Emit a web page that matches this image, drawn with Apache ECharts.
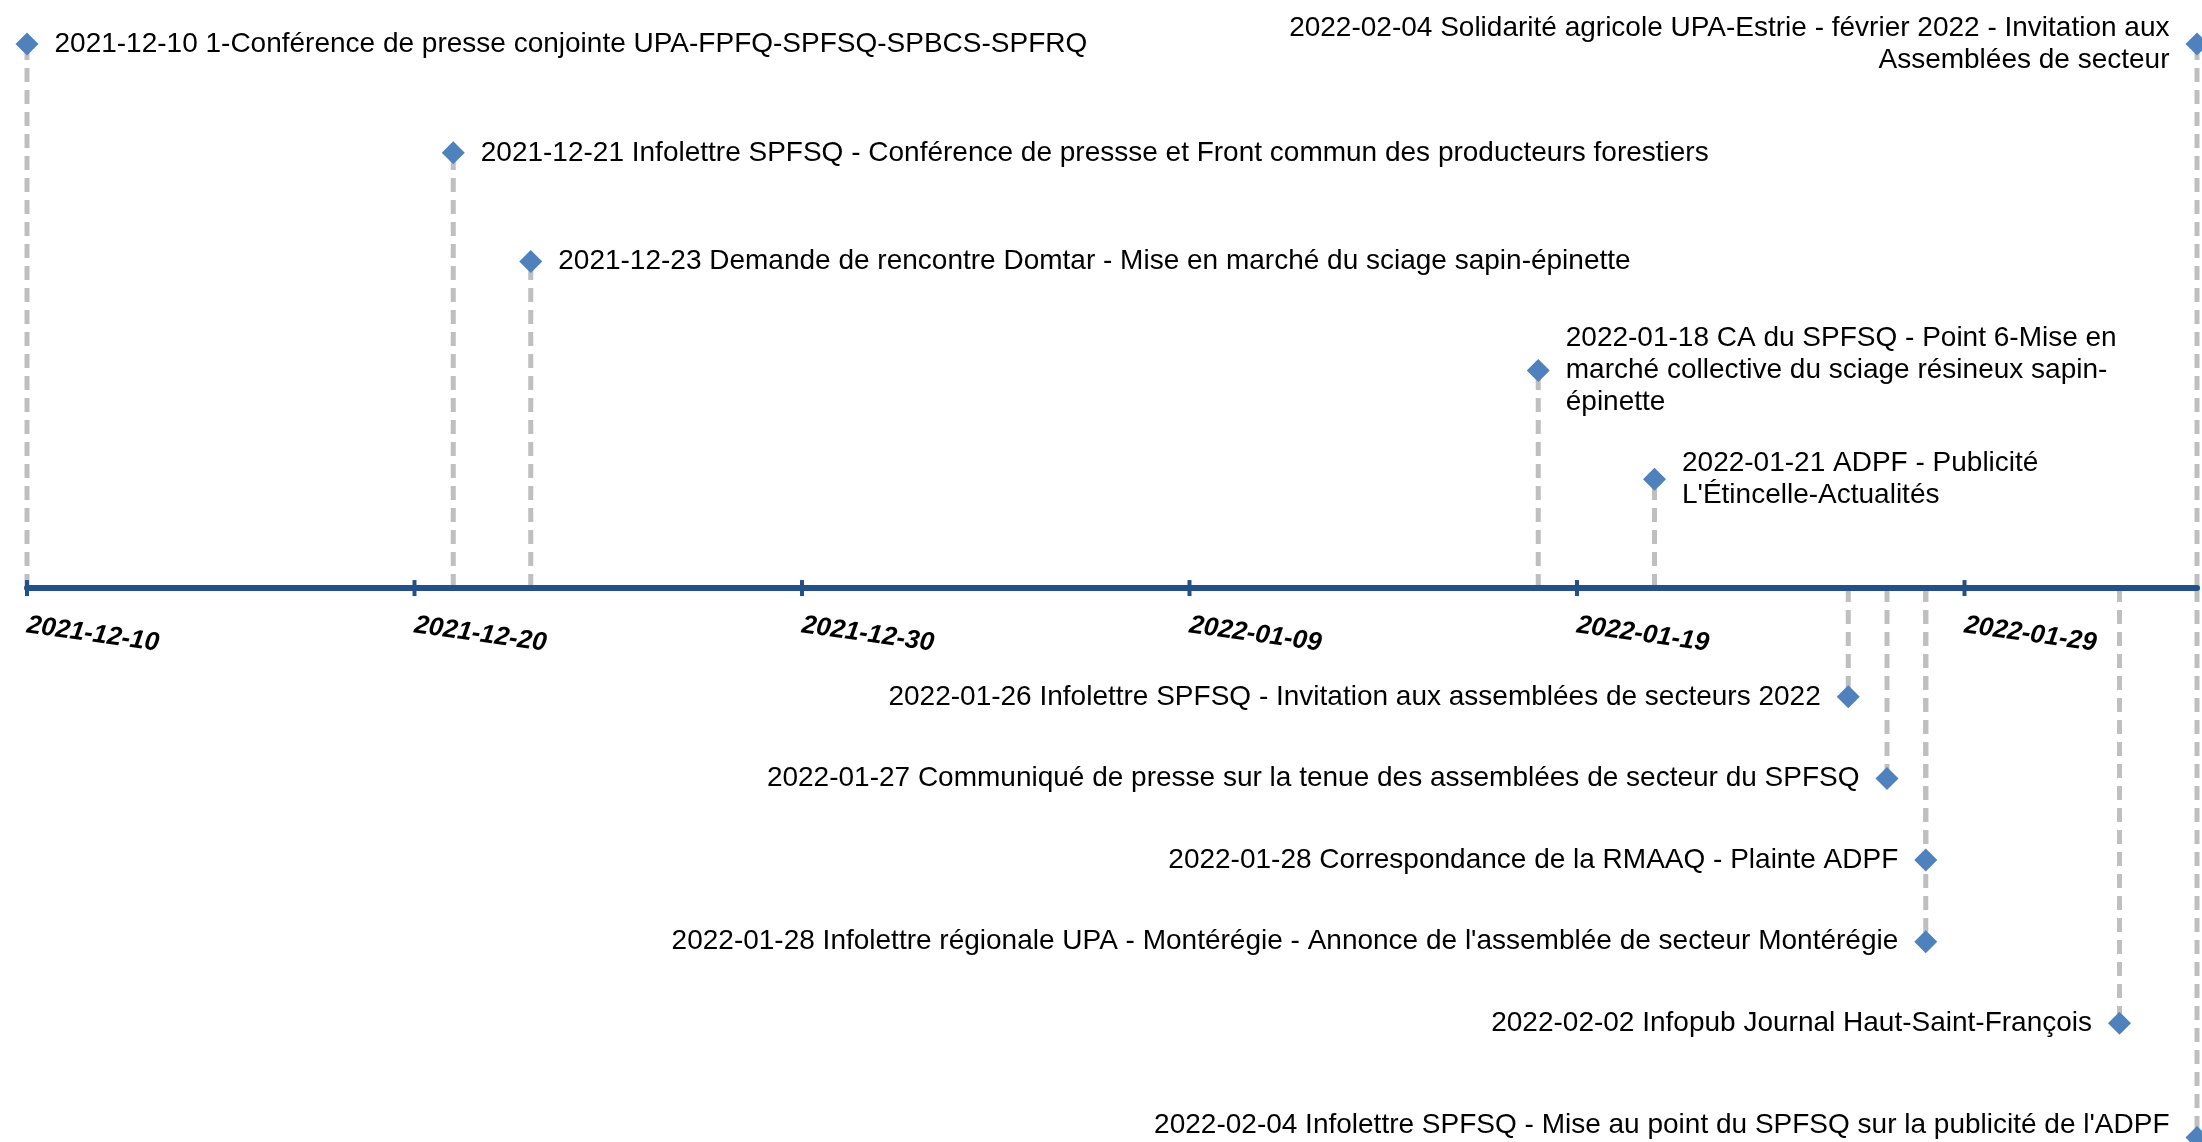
<!DOCTYPE html>
<html>
<head>
<meta charset="utf-8">
<script src="https://cdn.jsdelivr.net/npm/echarts@6/dist/echarts.min.js"></script>
<style>
  html, body { margin: 0; padding: 0; background: #ffffff; }
  #chart { width: 2202px; height: 1142px; }
</style>
</head>
<body>
<div id="chart"></div>
<script>
// ---- Data ----
const startDate = '2021-12-10';
const endDate = '2022-02-04';
const tickLabels = ['2021-12-10', '2021-12-20', '2021-12-30', '2022-01-09', '2022-01-19', '2022-01-29'];

const eventDates = [
  '2021-12-10', '2021-12-21', '2021-12-23', '2022-01-18', '2022-01-21', '2022-02-04',
  '2022-01-26', '2022-01-27', '2022-01-28', '2022-01-28', '2022-02-02', '2022-02-04'
];
const eventHeights = [5, 4, 3, 2, 1, 5, -1, -1.75, -2.5, -3.25, -4, -5.05];
const eventTexts = [
  '2021-12-10 1-Conférence de presse conjointe UPA-FPFQ-SPFSQ-SPBCS-SPFRQ',
  '2021-12-21 Infolettre SPFSQ - Conférence de pressse et Front commun des producteurs forestiers',
  '2021-12-23 Demande de rencontre Domtar - Mise en marché du sciage sapin-épinette',
  '2022-01-18 CA du SPFSQ - Point 6-Mise en\nmarché collective du sciage résineux sapin-\népinette',
  '2022-01-21 ADPF - Publicité\nL\'Étincelle-Actualités',
  '2022-02-04 Solidarité agricole UPA-Estrie - février 2022 - Invitation aux\nAssemblées de secteur',
  '2022-01-26 Infolettre SPFSQ - Invitation aux assemblées de secteurs 2022',
  '2022-01-27 Communiqué de presse sur la tenue des assemblées de secteur du SPFSQ',
  '2022-01-28 Correspondance de la RMAAQ - Plainte ADPF',
  '2022-01-28 Infolettre régionale UPA - Montérégie - Annonce de l\'assemblée de secteur Montérégie',
  '2022-02-02 Infopub Journal Haut-Saint-François',
  '2022-02-04 Infolettre SPFSQ - Mise au point du SPFSQ sur la publicité de l\'ADPF'
];

// ---- Helpers ----
const DAY = 86400000;
function toUTC(s) { const p = s.split('-').map(Number); return Date.UTC(p[0], p[1] - 1, p[2]); }
function dayIdx(s) { return Math.round((toUTC(s) - toUTC(startDate)) / DAY); }
const maxDay = dayIdx(endDate);
const tickValues = tickLabels.map(dayIdx);

const FONT = "'Liberation Sans', Arial, sans-serif";
const AXIS_COLOR = '#24508A';
const CHART_H = 1142;

const points = eventDates.map((d, i) => {
  const x = dayIdx(d);
  const leftSide = x > 45;
  return {
    value: [x, eventHeights[i]],
    label: {
      show: true,
      formatter: eventTexts[i],
      position: leftSide ? 'left' : 'right'
    }
  };
});

const chart = echarts.init(document.getElementById('chart'), null, { renderer: 'canvas' });
chart.setOption({
  animation: false,
  backgroundColor: '#ffffff',
  grid: { left: 27, right: 5, top: 44, height: 1099, outerBoundsMode: 'none', containLabel: false },
  xAxis: {
    type: 'value',
    min: 0,
    max: maxDay,
    z: 3,
    splitLine: { show: false },
    axisLine: { show: true, onZero: true, lineStyle: { color: AXIS_COLOR, width: 6 } },
    axisTick: { show: false },
    axisLabel: { show: false }
  },
  yAxis: {
    type: 'value',
    min: -5.1,
    max: 5,
    show: false,
    splitLine: { show: false }
  },
  series: [
    {
      type: 'custom',
      z: 1,
      data: points.map(p => p.value),
      renderItem: function (params, api) {
        const a = api.coord([api.value(0), 0]);
        const b = api.coord([api.value(0), api.value(1)]);
        return {
          type: 'line',
          shape: { x1: a[0], y1: a[1], x2: b[0], y2: b[1] },
          style: { stroke: '#BFBFBF', lineWidth: 5, lineDash: [14, 8] }
        };
      }
    },
    {
      // axis ticks crossing the line and the rotated tick labels
      type: 'custom',
      z: 4,
      data: tickValues.map(v => [v, 0]),
      renderItem: function (params, api) {
        const a = api.coord([api.value(0), 0]);
        return {
          type: 'group',
          children: [
            {
              type: 'line',
              shape: { x1: a[0], y1: a[1] - 8, x2: a[0], y2: a[1] + 8 },
              style: { stroke: AXIS_COLOR, lineWidth: 4 }
            },
            {
              type: 'text',
              x: a[0],
              y: a[1] + 37,
              rotation: -8 * Math.PI / 180,
              style: {
                text: tickLabels[params.dataIndex],
                fontFamily: FONT,
                fontSize: 26,
                fontWeight: 'bold',
                fontStyle: 'italic',
                fill: '#000000',
                align: 'left',
                verticalAlign: 'middle'
              }
            }
          ]
        };
      }
    },
    {
      type: 'scatter',
      z: 5,
      clip: false,
      symbol: 'diamond',
      symbolSize: 23,
      itemStyle: { color: '#4F81BD', opacity: 1 },
      label: {
        show: true,
        distance: 16,
        fontFamily: FONT,
        fontSize: 28,
        lineHeight: 32,
        color: '#000000'
      },
      labelLayout: function (params) {
        const r = params.labelRect;
        const over = r.y + r.height - (CHART_H - 1);
        return over > 0 ? { dy: -over } : {};
      },
      data: points
    }
  ]
});
</script>
</body>
</html>
